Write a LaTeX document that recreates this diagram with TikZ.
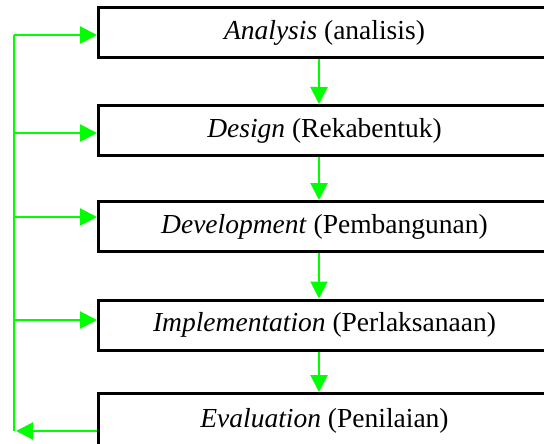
\documentclass[tikz,border=0pt]{standalone}
\usepackage{fontspec}
\setmainfont{Liberation Serif}
\usetikzlibrary{arrows.meta,calc}
\definecolor{lgreen}{RGB}{0,255,0}
\begin{document}
\begin{tikzpicture}[x=1pt,y=-1pt,
  stagebox/.style={draw=black,line width=3pt,fill=white,rectangle,minimum width=452pt,minimum height=50pt,inner sep=0pt,font=\fontsize{27.5}{30}\selectfont},
  gline/.style={draw=lgreen,line width=2pt},
  garrow/.style={gline,-{Triangle[length=17pt,width=17pt]}}]
\fill[white] (0,0) rectangle (544,444);
\useasboundingbox (0,0) rectangle (544,444);
\node[stagebox] (a)  at (324.5,33)    {\textit{Analysis} (analisis)};
\node[stagebox] (d)  at (324.5,130.5) {\textit{Design} (Rekabentuk)};
\node[stagebox] (dv) at (324.5,226.5) {\textit{Development} (Pembangunan)};
\node[stagebox] (im) at (324.5,325)   {\textit{Implementation} (Perlaksanaan)};
\node[stagebox,minimum height=54pt] (ev) at (324.5,420.5) {\textit{Evaluation} (Penilaian)};
\coordinate (col) at (319,0);
\draw[garrow] (a.south -| col) -- (d.north -| col);
\draw[garrow] (d.south -| col) -- (dv.north -| col);
\draw[garrow] (dv.south -| col) -- (im.north -| col);
\draw[garrow] (im.south -| col) -- (ev.north -| col);
\coordinate (fb) at (14,431);
\coordinate (t1) at (14,35);
\coordinate (t2) at (14,133);
\coordinate (t3) at (14,217);
\coordinate (t4) at (14,320);
\draw[gline] (fb) -- (t1);
\draw[garrow] (ev.west |- fb) -- ($(fb)+(2,0)$);
\draw[garrow] (t1) -- (a.west |- t1);
\draw[garrow] (t2) -- (d.west |- t2);
\draw[garrow] (t3) -- (dv.west |- t3);
\draw[garrow] (t4) -- (im.west |- t4);
\end{tikzpicture}
\end{document}
